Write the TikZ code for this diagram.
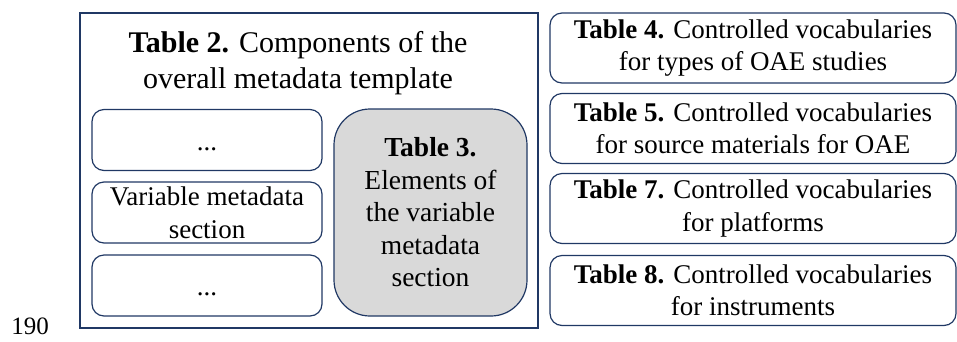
\documentclass[tikz,border=0pt]{standalone}
\usepackage{fontspec}
\setmainfont{Liberation Serif}
\usetikzlibrary{positioning}
\definecolor{navy}{RGB}{32,56,100}
\definecolor{boxgray}{RGB}{217,217,217}
\tikzset{>=stealth}
\tikzset{
  frame/.style={draw=navy,line width=1.3pt,rectangle,inner sep=0pt},
  secbox/.style={draw=navy,line width=1.2pt,rectangle,rounded corners=12pt,
    minimum width=230pt,minimum height=61pt,align=center,inner sep=0pt,
    font=\fontsize{27}{33}\selectfont},
  dotsbox/.style={secbox,text height=20pt,text depth=0pt},
  tabbox/.style={draw=navy,line width=1.2pt,rectangle,rounded corners=12pt,
    minimum width=406pt,minimum height=70pt,align=center,inner sep=0pt,
    font=\fontsize{27}{32.5}\selectfont},
  elembox/.style={draw=navy,line width=1.2pt,fill=boxgray,rectangle,rounded corners=36pt,
    minimum width=193pt,minimum height=207pt,align=center,inner sep=0pt,
    font=\fontsize{27.5}{32.5}\selectfont}
}
\begin{document}
\begin{tikzpicture}[x=1pt,y=-1pt]
\useasboundingbox (0,0) rectangle (957,341);
\node[frame,minimum width=458pt,minimum height=315pt] (outer) at (309,170.5) {};
\node[align=center,font=\fontsize{30}{35.5}\selectfont] (title) at (298,63)
  {\textbf{Table 2.} Components of the\\overall metadata template};
\node[dotsbox] (top) at (207,140) {...};
\node[secbox] (var) at (207,212.5) {Variable metadata\\section};
\node[dotsbox] (bottom) at (207,285.5) {...};
\node[elembox] (elem) at (430.5,212.5)
  {\textbf{Table 3.}\\Elements of\\the variable\\metadata\\section};
\node[tabbox] (t4) at (753,48) {\textbf{Table 4.} Controlled vocabularies\\for types of OAE studies};
\node[tabbox] (t5) at (753,128.5) {\textbf{Table 5.} Controlled vocabularies\\for source materials for OAE};
\node[tabbox] (t7) at (753,208.5) {\textbf{Table 7.} Controlled vocabularies\\for platforms};
\node[tabbox] (t8) at (753,290.5) {\textbf{Table 8.} Controlled vocabularies\\for instruments};
\node[font=\fontsize{25}{30}\selectfont,inner sep=0pt] (lineno) at (30,326) {190};
\end{tikzpicture}
\end{document}
